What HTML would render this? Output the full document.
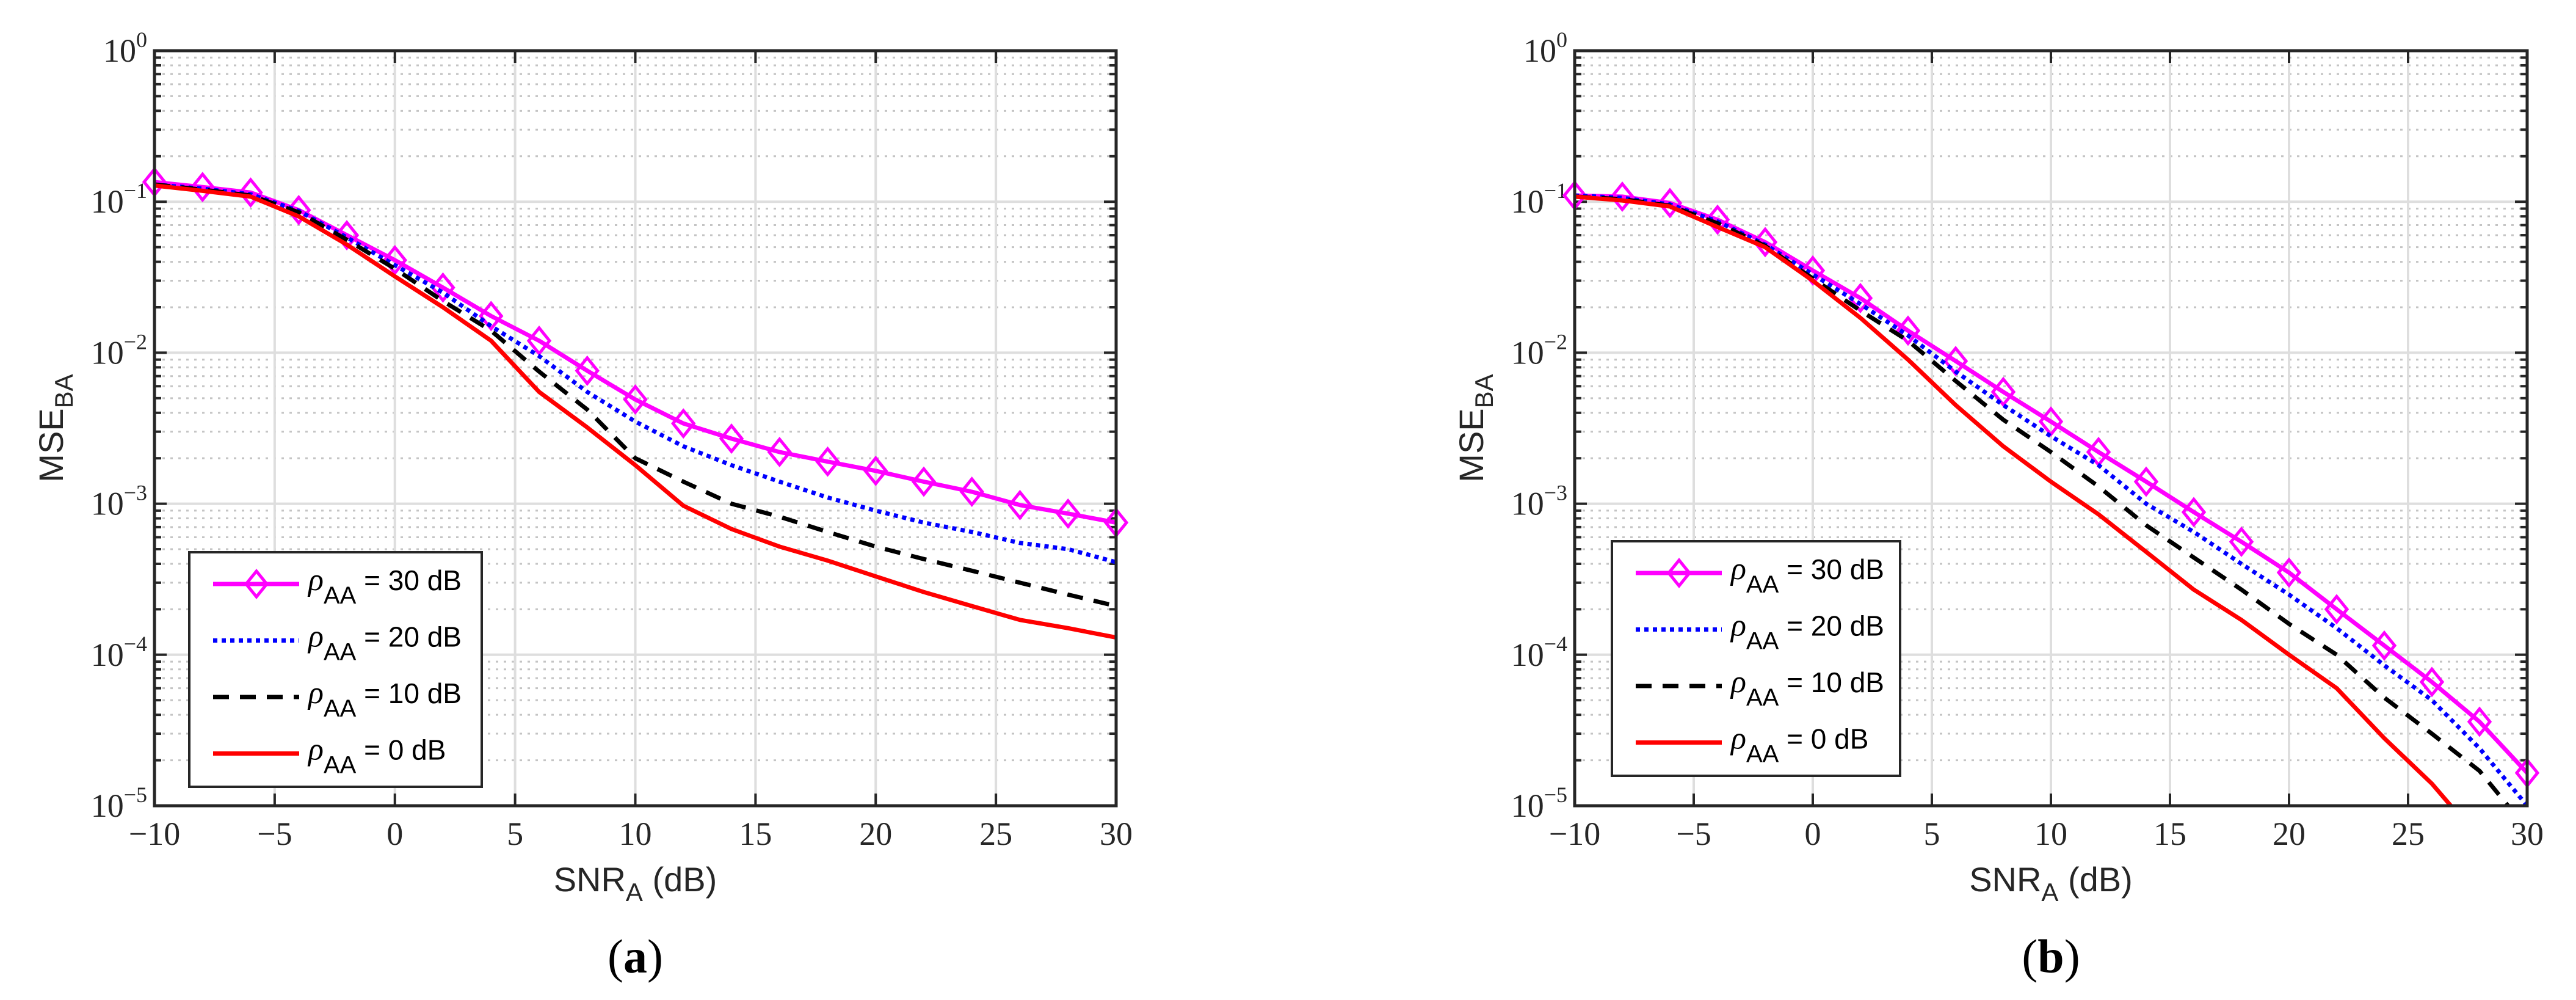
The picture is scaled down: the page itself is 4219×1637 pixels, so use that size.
<!DOCTYPE html>
<html><head><meta charset="utf-8"><style>
html,body{margin:0;padding:0;background:#fff;}
svg{display:block;}
.tk{font-family:"Liberation Serif",serif;font-size:54px;fill:#262626;}
.lab{font-family:"Liberation Sans",sans-serif;font-size:56px;fill:#262626;}
.leg{font-family:"Liberation Sans",sans-serif;font-size:46px;fill:#000;}
.cap{font-family:"Liberation Serif",serif;font-size:78px;fill:#000;}
</style></head><body>
<svg id="fig" width="4219" height="1637" viewBox="0 0 4219 1637" xmlns="http://www.w3.org/2000/svg"></svg>
<script>
const snr = [-10,-8,-6,-4,-2,0,2,4,6,8,10,12,14,16,18,20,22,24,26,28,30];
const seriesLabels = ["30 dB","20 dB","10 dB","0 dB"];
const xTicks = [-10,-5,0,5,10,15,20,25,30];
const yExps = [0,-1,-2,-3,-4,-5];
const a30 = [0.135,0.125,0.115,0.088,0.06,0.041,0.027,0.0175,0.012,0.0076,0.0049,0.0034,0.0027,0.0022,0.0019,0.00165,0.0014,0.0012,0.00098,0.00086,0.00075];
const a20 = [0.13,0.122,0.112,0.087,0.058,0.038,0.025,0.015,0.0095,0.0055,0.0035,0.0024,0.0018,0.0014,0.0011,0.0009,0.00075,0.00065,0.00055,0.0005,0.00041];
const a10 = [0.13,0.12,0.11,0.085,0.056,0.036,0.022,0.014,0.0075,0.0042,0.002,0.0014,0.001,0.00082,0.00065,0.00052,0.00043,0.00036,0.0003,0.00025,0.00021];
const a0  = [0.128,0.118,0.108,0.08,0.052,0.032,0.02,0.012,0.0055,0.0032,0.0018,0.00097,0.00068,0.00052,0.00042,0.00033,0.00026,0.00021,0.00017,0.00015,0.00013];
const b30 = [0.11,0.108,0.098,0.076,0.054,0.035,0.023,0.014,0.0088,0.0055,0.0035,0.0022,0.0014,0.00088,0.00056,0.00035,0.0002,0.000115,0.000066,0.000036,0.0000165];
const b20 = [0.11,0.106,0.096,0.074,0.052,0.033,0.021,0.013,0.0075,0.0045,0.0028,0.0018,0.001,0.00065,0.0004,0.00025,0.00015,0.000085,0.00005,0.000024,0.00001];
const b10 = [0.108,0.104,0.094,0.072,0.051,0.031,0.019,0.012,0.0065,0.0036,0.0022,0.0013,0.00072,0.00044,0.00027,0.00016,0.0001,0.000052,0.00003,0.000017,0.000007];
const b0  = [0.108,0.102,0.093,0.068,0.05,0.03,0.017,0.009,0.0045,0.0024,0.0014,0.00085,0.00048,0.00027,0.00017,0.0001,0.00006,0.000028,0.000014,0.000006,0.0000025];

const NS="http://www.w3.org/2000/svg";
const svg=document.getElementById('fig');
function el(tag,attrs,parent,txt){const e=document.createElementNS(NS,tag);for(const k in attrs)e.setAttribute(k,attrs[k]);if(txt!==undefined)e.textContent=txt;(parent||svg).appendChild(e);return e;}

const styles=[
 {color:"#ff00ff",dash:null,w:7,marker:true},
 {color:"#0000ff",dash:"7,7",w:7,marker:false},
 {color:"#000000",dash:"26,18",w:7,marker:false},
 {color:"#ff0000",dash:null,w:7,marker:false}
];

function panel(id,L,R,T,B,data,leg,cap){
  const g=el('g',{},svg);
  
  
  const xs=v=>L+(v+10)/40*(R-L);
  const ys=v=>T+(-Math.log10(v))/5*(B-T);
  for(let e=0;e>-5;e--){
    for(let m=2;m<=9;m++){
      const y=ys(m*Math.pow(10,e-1));
      const ln=el('line',{x1:L,x2:R,y1:y,y2:y,stroke:"#c4c4c4","stroke-width":3,"stroke-dasharray":"4,9"},g);
      
      
      el('line',{x1:L,x2:L+11,y1:y,y2:y,stroke:"#262626","stroke-width":4},g);
      el('line',{x1:R,x2:R-11,y1:y,y2:y,stroke:"#262626","stroke-width":4},g);
    }
  }
  yExps.forEach(e=>{
    const y=ys(Math.pow(10,e));
    const ln=el('line',{x1:L,x2:R,y1:y,y2:y,stroke:"#dedede","stroke-width":4},g);
    
    
    el('line',{x1:L,x2:L+20,y1:y,y2:y,stroke:"#262626","stroke-width":4},g);
    el('line',{x1:R,x2:R-20,y1:y,y2:y,stroke:"#262626","stroke-width":4},g);
    const t=el('text',{x:L-12,y:y+18,"text-anchor":"end",class:"tk"},g);
    
    
    el('tspan',{},t,"10");
    el('tspan',{dy:-24,"font-size":"36"},t,e===0?"0":"\u2212"+(-e));
  });
  xTicks.forEach(v=>{
    const x=xs(v);
    const ln=el('line',{x1:x,x2:x,y1:T,y2:B,stroke:"#dedede","stroke-width":4},g);
    
    
    el('line',{x1:x,x2:x,y1:B,y2:B-20,stroke:"#262626","stroke-width":4},g);
    el('line',{x1:x,x2:x,y1:T,y2:T+20,stroke:"#262626","stroke-width":4},g);
    const t=el('text',{x:x,y:B+64,"text-anchor":"middle",class:"tk"},g,v<0?"\u2212"+(-v):String(v));
    
    
  });
  const cp=el('clipPath',{id:'clip'+id},g);
  el('rect',{x:L-30,y:T,width:R-L+60,height:B-T},cp);
  const sg=el('g',{"clip-path":"url(#clip"+id+")"},g);
  data.forEach((arr,i)=>{
    const s=styles[i];
    const pts=arr.map((v,j)=>xs(snr[j]).toFixed(1)+","+ys(v).toFixed(1)).join(" ");
    const pl=el('polyline',{points:pts,fill:"none",stroke:s.color,"stroke-width":s.w,"stroke-linejoin":"round"},sg);
    if(s.dash)pl.setAttribute('stroke-dasharray',s.dash);
    
    
    if(s.marker){
      arr.forEach((v,j)=>{
        const x=xs(snr[j]),y=ys(v);
        const d=el('polygon',{points:`${x},${y-21} ${x+17},${y} ${x},${y+21} ${x-17},${y}`,fill:"none",stroke:s.color,"stroke-width":5},sg);
        
        
      });
    }
  });
  const bx=el('rect',{x:L,y:T,width:R-L,height:B-T,fill:"none",stroke:"#262626","stroke-width":5},g);
  
  
  const xl=el('text',{x:(L+R)/2,y:B+140,"text-anchor":"middle",class:"lab"},g);
  
  
  el('tspan',{},xl,"SNR");
  el('tspan',{dy:16,"font-size":"42"},xl,"A");
  el('tspan',{dy:-16},xl," (dB)");
  const yl=el('text',{transform:`translate(${L-150},${(T+B)/2}) rotate(-90)`,"text-anchor":"middle",class:"lab"},g);
  
  
  el('tspan',{},yl,"MSE");
  el('tspan',{dy:16,"font-size":"42"},yl,"BA");
  const lg=el('g',{},g);
  
  
  el('rect',{x:leg.x,y:leg.y,width:leg.w,height:leg.h,fill:"#fff",stroke:"#262626","stroke-width":4},lg);
  seriesLabels.forEach((lab,i)=>{
    const s=styles[i];
    const cy=leg.y+52+i*92.5;
    const ent=el('g',{},lg);
    
    
    const ln=el('line',{x1:leg.x+39,x2:leg.x+180,y1:cy,y2:cy,stroke:s.color,"stroke-width":s.w},ent);
    if(s.dash)ln.setAttribute('stroke-dasharray',s.dash);
    if(s.marker){const x=leg.x+110;el('polygon',{points:`${x},${cy-21} ${x+17},${cy} ${x},${cy+21} ${x-17},${cy}`,fill:"none",stroke:s.color,"stroke-width":5},ent);}
    const t=el('text',{x:leg.x+195,y:cy+10,class:"leg"},ent);
    el('tspan',{"font-style":"italic","font-family":"Liberation Serif, serif","font-size":"52"},t,"\u03C1");
    el('tspan',{dy:22,"font-size":"40"},t,"AA");
    el('tspan',{dy:-22},t,"  = "+lab);
  });
  const c=el('text',{x:(L+R)/2,y:1592,"text-anchor":"middle",class:"cap"},g);
  
  
  el('tspan',{},c,"(");
  el('tspan',{"font-weight":"bold"},c,cap);
  el('tspan',{},c,")");
}
panel('a',253,1828,83,1319,[a30,a20,a10,a0],{x:310,y:904,w:479,h:384},'a');
panel('b',2579,4139,83,1319,[b30,b20,b10,b0],{x:2640,y:886,w:472,h:384},'b');
</script>
</body></html>
